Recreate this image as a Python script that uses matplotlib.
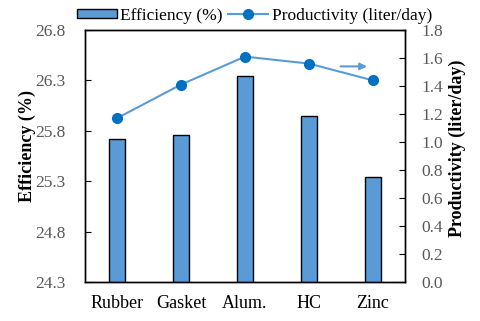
import matplotlib
matplotlib.use("Agg")
import matplotlib.pyplot as plt
import numpy as np

plt.rcParams['font.family'] = 'Liberation Serif'

categories = ['Rubber', 'Gasket', 'Alum.', 'HC', 'Zinc']
efficiency = [25.72, 25.76, 26.34, 25.95, 25.34]
productivity = [1.17, 1.41, 1.61, 1.56, 1.44]

fig = plt.figure(figsize=(4.8, 3.21), dpi=100)
ax = fig.add_axes([85/480, 1 - 282/321, 320/480, 252/321])
ax2 = ax.twinx()

x = np.arange(len(categories))
bars = ax.bar(x, efficiency, width=0.25, bottom=0, color='#5b9bd5',
              edgecolor='black', linewidth=1, label='Efficiency (%)')
ax.set_ylim(24.3, 26.8)
ax.set_yticks(np.arange(24.3, 26.81, 0.5))
ax.set_yticklabels([f'{v:.1f}' for v in np.arange(24.3, 26.81, 0.5)])
ax.set_xlim(-0.5, 4.5)
ax.set_xticks(x)
ax.set_xticklabels(categories, fontsize=13)
ax.tick_params(axis='x', length=0, pad=9)
ax.tick_params(axis='y', labelsize=12.5, labelcolor='#595959', direction='in', length=4, pad=14)
ax.set_ylabel('Efficiency (%)', fontsize=13, fontweight='bold')
ax.yaxis.set_label_coords(-0.152, 0.54)

line, = ax2.plot(x, productivity, color='#5b9bd5', marker='o', markersize=7,
                 markerfacecolor='#0070c0', markeredgecolor='#0070c0',
                 linewidth=1.5, label='Productivity (liter/day)')
ax2.set_ylim(0, 1.8)
ax2.set_yticks(np.arange(0, 1.81, 0.2))
ax2.set_yticklabels([f'{v:.1f}' for v in np.arange(0, 1.81, 0.2)])
ax2.tick_params(axis='y', labelsize=12.5, labelcolor='#595959', direction='in', length=4, pad=12)
ax2.set_ylabel('Productivity (liter/day)', fontsize=13, fontweight='bold')
ax2.yaxis.set_label_coords(1.135, 0.53)

for a in (ax, ax2):
    for s in a.spines.values():
        s.set_linewidth(1)

ax2.annotate('', xy=(3.95, 1.54), xytext=(3.45, 1.54),
             arrowprops=dict(arrowstyle='-|>', color='#5b9bd5', lw=1.5))

fig.legend([bars, line], ['Efficiency (%)', 'Productivity (liter/day)'],
           loc='upper center', bbox_to_anchor=(0.53, 1.025), ncol=2, frameon=False,
           fontsize=12.5, handlelength=2.3, handleheight=0.4, columnspacing=0.3, handletextpad=0.2)

fig.savefig('out.png', dpi=100)
